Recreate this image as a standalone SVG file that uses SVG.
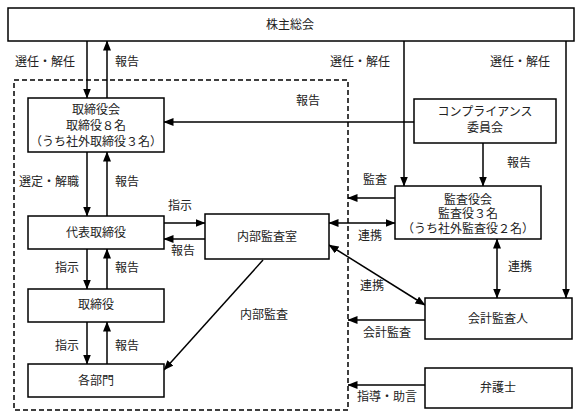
<svg xmlns="http://www.w3.org/2000/svg" width="581" height="418" viewBox="0 0 581 418">
<style>
.box{fill:#fff;stroke:#000;stroke-width:1.5}
.ln{fill:none;stroke:#000;stroke-width:1.5}
.ar{fill:none;stroke:#000;stroke-width:1.5;marker-end:url(#ah)}
.dar{fill:none;stroke:#000;stroke-width:1.5;marker-end:url(#ah);marker-start:url(#ahs)}
.dash{fill:none;stroke:#000;stroke-width:1.5;stroke-dasharray:5 3}
text{font-family:"Liberation Serif","Noto Sans CJK JP",serif;font-size:12px;fill:#222}
.c{text-anchor:middle}
</style>
<defs>
<marker id="ah" markerUnits="userSpaceOnUse" markerWidth="10" markerHeight="8" refX="9.5" refY="4" orient="auto"><path d="M0,0 L10,4 L0,8 z" fill="#000"/></marker>
<marker id="ahs" markerUnits="userSpaceOnUse" markerWidth="10" markerHeight="8" refX="9.5" refY="4" orient="auto-start-reverse"><path d="M0,0 L10,4 L0,8 z" fill="#000"/></marker>
</defs>
<rect class="dash" x="14" y="80" width="334" height="330"/>
<g id="connectors">
<line class="ar" x1="87" y1="41" x2="87" y2="98"/>
<line class="ar" x1="107" y1="98" x2="107" y2="41"/>
<line class="ar" x1="404" y1="41" x2="404" y2="186"/>
<line class="ar" x1="566" y1="41" x2="566" y2="298"/>
<line class="ar" x1="414" y1="122" x2="164" y2="122"/>
<line class="ar" x1="483" y1="143" x2="483" y2="186"/>
<line class="ar" x1="395" y1="198" x2="348" y2="198"/>
<line class="dar" x1="329" y1="223" x2="395" y2="223"/>
<line class="dar" x1="497" y1="239" x2="497" y2="298"/>
<line class="dar" x1="329" y1="245" x2="425" y2="305"/>
<line class="ar" x1="425" y1="320" x2="348" y2="320"/>
<line class="ar" x1="425" y1="385" x2="348" y2="385"/>
<line class="ar" x1="87" y1="152" x2="87" y2="216"/>
<line class="ar" x1="107" y1="216" x2="107" y2="152"/>
<line class="ar" x1="164" y1="223" x2="205" y2="223"/>
<line class="ar" x1="205" y1="239" x2="164" y2="239"/>
<line class="ar" x1="87" y1="249" x2="87" y2="289"/>
<line class="ar" x1="107" y1="289" x2="107" y2="249"/>
<line class="ar" x1="87" y1="322" x2="87" y2="364"/>
<line class="ar" x1="107" y1="364" x2="107" y2="322"/>
<line class="ar" x1="263" y1="260" x2="164" y2="370"/>
<text x="15" y="66">選任・解任</text>
<text x="115" y="66">報告</text>
<text x="330" y="66">選任・解任</text>
<text x="490" y="66">選任・解任</text>
<text x="296" y="105">報告</text>
<text x="507" y="167">報告</text>
<text x="363" y="184">監査</text>
<text x="358" y="240">連携</text>
<text x="508" y="271">連携</text>
<text x="360" y="290">連携</text>
<text x="363" y="337">会計監査</text>
<text x="357" y="401">指導・助言</text>
<text x="19" y="186">選定・解職</text>
<text x="115" y="186">報告</text>
<text x="168" y="210">指示</text>
<text x="171" y="255">報告</text>
<text x="55" y="272">指示</text>
<text x="115" y="272">報告</text>
<text x="55" y="350">指示</text>
<text x="115" y="350">報告</text>
<text x="240" y="319">内部監査</text>
</g>
<g id="kabunushi"><rect class="box" x="8" y="8" width="566" height="33"/><text class="c" x="290" y="29">株主総会</text></g>
<g id="torishimariyakukai"><rect class="box" x="28" y="98" width="136" height="54"/><text class="c" x="96" y="114">取締役会</text><text class="c" x="96" y="130">取締役８名</text><text class="c" x="96" y="146">（うち社外取締役３名）</text></g>
<g id="compliance"><rect class="box" x="414" y="99" width="142" height="44"/><text class="c" x="485" y="116">コンプライアンス</text><text class="c" x="485" y="132">委員会</text></g>
<g id="kansayakukai"><rect class="box" x="395" y="186" width="146" height="53"/><text class="c" x="468" y="204">監査役会</text><text class="c" x="468" y="218">監査役３名</text><text class="c" x="468" y="233">（うち社外監査役２名）</text></g>
<g id="daihyo"><rect class="box" x="28" y="216" width="136" height="33"/><text class="c" x="96" y="237">代表取締役</text></g>
<g id="naibukansashitsu"><rect class="box" x="205" y="214" width="124" height="45"/><text class="c" x="267" y="241">内部監査室</text></g>
<g id="torishimariyaku"><rect class="box" x="28" y="289" width="136" height="33"/><text class="c" x="96" y="309">取締役</text></g>
<g id="kakubumon"><rect class="box" x="28" y="364" width="136" height="33"/><text class="c" x="96" y="385">各部門</text></g>
<g id="kaikeikansanin"><rect class="box" x="425" y="298" width="147" height="41"/><text class="c" x="498" y="323">会計監査人</text></g>
<g id="bengoshi"><rect class="box" x="425" y="368" width="147" height="40"/><text class="c" x="498" y="392">弁護士</text></g>
</svg>
